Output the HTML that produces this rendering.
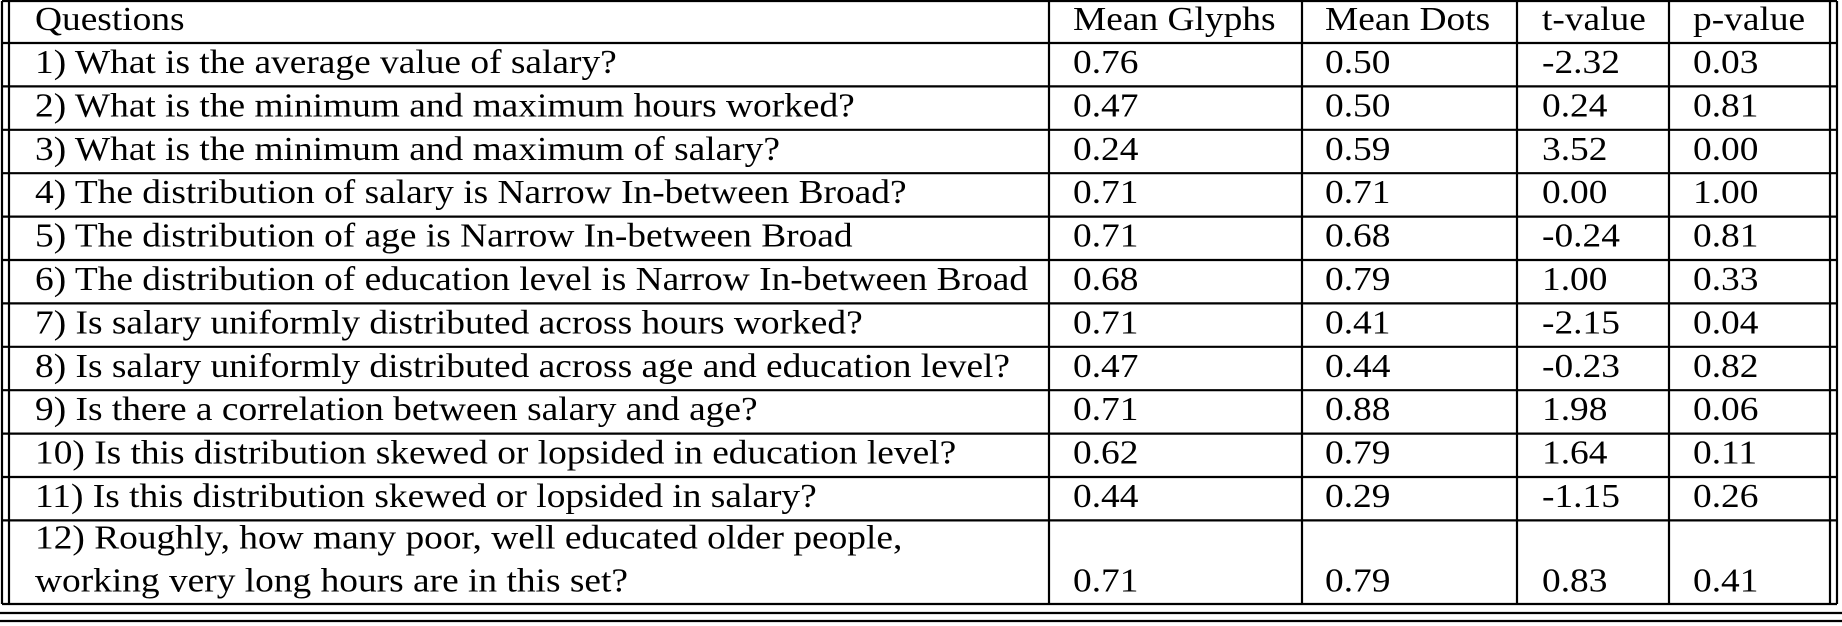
<!DOCTYPE html>
<html><head><meta charset="utf-8"><style>
html,body{margin:0;padding:0;background:#fff;}
svg{display:block;}
text{font-family:"Liberation Serif","Times New Roman",serif;font-size:34px;fill:#000;}
</style></head><body>
<svg id="tbl" width="1842" height="626" viewBox="0 0 1842 626" xmlns="http://www.w3.org/2000/svg"></svg>
<script>
const headers = ["Questions","Mean Glyphs","Mean Dots","t-value","p-value"];
const questions = [
 ["1) What is the average value of salary?"],
 ["2) What is the minimum and maximum hours worked?"],
 ["3) What is the minimum and maximum of salary?"],
 ["4) The distribution of salary is Narrow In-between Broad?"],
 ["5) The distribution of age is Narrow In-between Broad"],
 ["6) The distribution of education level is Narrow In-between Broad"],
 ["7) Is salary uniformly distributed across hours worked?"],
 ["8) Is salary uniformly distributed across age and education level?"],
 ["9) Is there a correlation between salary and age?"],
 ["10) Is this distribution skewed or lopsided in education level?"],
 ["11) Is this distribution skewed or lopsided in salary?"],
 ["12) Roughly, how many poor, well educated older people,","working very long hours are in this set?"]
];
const meanGlyphs = ["0.76","0.47","0.24","0.71","0.71","0.68","0.71","0.47","0.71","0.62","0.44","0.71"];
const meanDots = ["0.50","0.50","0.59","0.71","0.68","0.79","0.41","0.44","0.88","0.79","0.29","0.79"];
const tValues = ["-2.32","0.24","3.52","0.00","-0.24","1.00","-2.15","-0.23","1.98","1.64","-1.15","0.83"];
const pValues = ["0.03","0.81","0.00","1.00","0.81","0.33","0.04","0.82","0.06","0.11","0.26","0.41"];

const NS="http://www.w3.org/2000/svg";
const svg=document.getElementById('tbl');
const textX=[35,1073,1325,1542,1693];
const rowTop=[1];
for(let i=0;i<=11;i++) rowTop.push(43+i*43.4);
rowTop.push(604);
function line(x1,y1,x2,y2,name){
  const l=document.createElementNS(NS,'line');
  l.setAttribute('x1',x1);l.setAttribute('y1',y1);l.setAttribute('x2',x2);l.setAttribute('y2',y2);
  l.setAttribute('stroke','#000');l.setAttribute('stroke-width','2.2');
  
  
  svg.appendChild(l);
}
function txt(x,y,s,name){
  const t=document.createElementNS(NS,'text');
  t.setAttribute('transform','translate('+x+','+y+') scale(1.1,1)');
  t.setAttribute('font-family','Liberation Serif, Times New Roman, serif');
  t.textContent=s;
  
  
  svg.appendChild(t);
}
rowTop.forEach((y,i)=>line(2,y,1837,y,'row-border'));
line(0,613,1842,613,'bottom-rule-1');
line(0,621,1842,621,'bottom-rule-2');
[2,9,1049,1302,1517,1669,1830,1837].forEach(x=>line(x,1,x,604,'column-border'));
headers.forEach((h,i)=>txt(textX[i],30,h,'header-cell'));
for(let r=0;r<12;r++){
  const top=rowTop[r+1];
  const q=questions[r];
  let b=top+30;
  if(q.length===1){
    txt(textX[0],b,q[0],'question-cell');
  } else {
    txt(textX[0],top+28,q[0],'question-cell');
    txt(textX[0],top+71,q[1],'question-cell');
    b=top+71;
  }
  txt(textX[1],b,meanGlyphs[r],'mean-glyphs-cell');
  txt(textX[2],b,meanDots[r],'mean-dots-cell');
  txt(textX[3],b,tValues[r],'t-value-cell');
  txt(textX[4],b,pValues[r],'p-value-cell');
}
</script>
</body></html>
